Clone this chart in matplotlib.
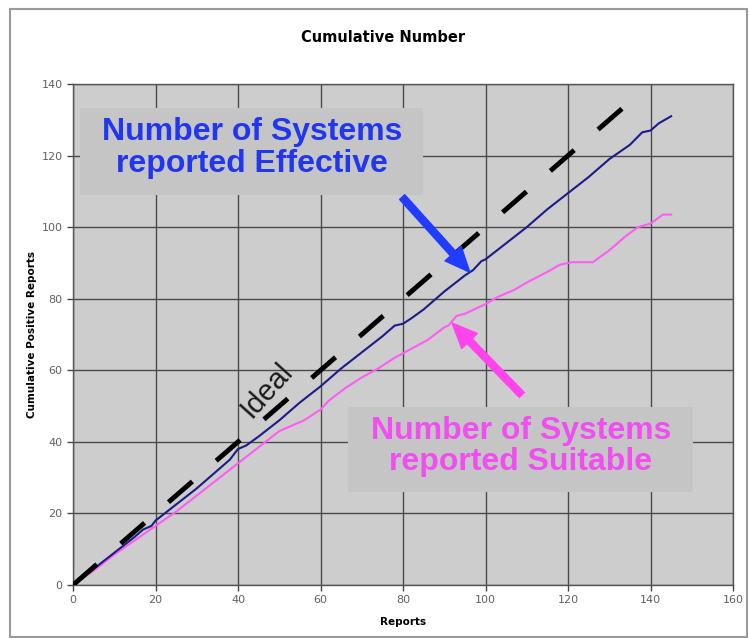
import matplotlib.pyplot as plt
from matplotlib.patches import Rectangle

# data
effective_x = [0, 5, 10, 15, 17, 19, 20, 25, 30, 35, 38, 40, 42, 45, 50, 55, 60, 65, 70, 75, 78,
               80, 82, 85, 90, 95, 97, 99, 100, 105, 110, 115, 120, 125, 130, 135, 138, 140, 142, 145]
effective_y = [0, 4.5, 9, 13.5, 15.5, 16.5, 18, 22.5, 27, 32, 35, 38, 39, 41.5, 46, 51, 55.5,
               60.5, 65, 69.5, 72.5, 73, 74.5, 77, 82, 86.5, 88, 90.5, 91, 95.5, 100, 105, 109.5,
               114, 119, 123, 126.5, 127, 129, 131]

suitable_x = [0, 5, 10, 15, 20, 25, 30, 35, 40, 45, 50, 53, 56, 60, 62, 66, 70, 74, 78, 82, 86,
              90, 91, 93, 95, 100, 103, 107, 110, 115, 118, 121, 126, 130, 134, 137, 140, 143, 145]
suitable_y = [0, 4, 8.5, 12.5, 16.5, 20.5, 25, 29.5, 34, 38.5, 43, 44.5, 46, 49, 51.5, 55, 58,
              60.5, 63.5, 66, 68.5, 72, 72.5, 75.2, 75.8, 78.5, 80.5, 82.5, 84.5, 87.5, 89.5,
              90.2, 90.2, 93.5, 97.5, 100, 101, 103.5, 103.5]

ideal_x = [0, 136]
ideal_y = [0, 136]

x_ticks = [0, 20, 40, 60, 80, 100, 120, 140, 160]
y_ticks = [0, 20, 40, 60, 80, 100, 120, 140]

fig = plt.figure(figsize=(7.49, 6.38), dpi=100)
ax = fig.add_axes([73 / 749, 1 - 585 / 638, 660 / 749, 501 / 638])

# outer frame of the chart
fig.patches.append(Rectangle((10 / 749, 0.002), 737 / 749, 1 - 9 / 638 - 0.002,
                             transform=fig.transFigure, fill=False,
                             edgecolor='#9a9a9a', linewidth=1.5))

ax.set_facecolor('#cdcdcd')
ax.set_axisbelow(True)
ax.grid(True, color='#4a4a4a', linewidth=1.0)

# label boxes
ax.add_patch(Rectangle((1.7, 108.9), 83.1, 24.3, facecolor='#c5c5c5', edgecolor='none', zorder=1))
ax.add_patch(Rectangle((66.7, 26.0), 83.6, 23.7, facecolor='#c5c5c5', edgecolor='none', zorder=1))

ax.plot(suitable_x, suitable_y, color='#ff5cf5', linewidth=1.5, zorder=2)
ax.plot(effective_x, effective_y, color='#1c1c8a', linewidth=1.5, zorder=2.5)
ax.plot(ideal_x, ideal_y, color='black', linewidth=3.5, dashes=(6.5, 6.5),
        dash_capstyle='butt', zorder=3)

ax.text(43.4, 122.1, 'Number of Systems\nreported Effective', color='#2036f0',
        fontsize=23, fontweight='bold', family='Liberation Sans', ha='center', va='center',
        linespacing=1.05, zorder=5)
ax.text(108.6, 38.7, 'Number of Systems\nreported Suitable', color='#f04ef0',
        fontsize=23, fontweight='bold', family='Liberation Sans', ha='center', va='center',
        linespacing=1.05, zorder=5)
ax.text(47, 54.5, 'Ideal', color='#1a1a1a', fontsize=21, family='Liberation Sans',
        rotation=48, ha='center', va='center', zorder=5)

ax.annotate('', xy=(96.2, 87.4), xytext=(79.8, 108.4),
            arrowprops=dict(arrowstyle='simple,head_length=1.5,head_width=1.3,tail_width=0.42',
                            mutation_scale=12, color='#1f3cff', shrinkA=0, shrinkB=0), zorder=6)
ax.annotate('', xy=(91.9, 73.2), xytext=(108.8, 53.1),
            arrowprops=dict(arrowstyle='simple,head_length=1.5,head_width=1.3,tail_width=0.42',
                            mutation_scale=12, color='#ff44ee', shrinkA=0, shrinkB=0), zorder=6)

ax.set_xlim(0, 160)
ax.set_ylim(0, 140)
ax.set_xticks(x_ticks)
ax.set_yticks(y_ticks)
ax.tick_params(labelsize=8, labelcolor='#606060', color='#444444', length=4, width=1)
for s in ax.spines.values():
    s.set_color('#555555')
    s.set_linewidth(1.0)

ax.set_xlabel('Reports', fontsize=7.5, fontweight='bold', labelpad=8)
ax.set_ylabel('Cumulative Positive Reports', fontsize=7.5, fontweight='bold', labelpad=3)
fig.text(383 / 749, 1 - 37 / 638, 'Cumulative Number', fontsize=10.5, fontweight='bold',
         ha='center', va='center')

fig.savefig('out.png', dpi=100)
